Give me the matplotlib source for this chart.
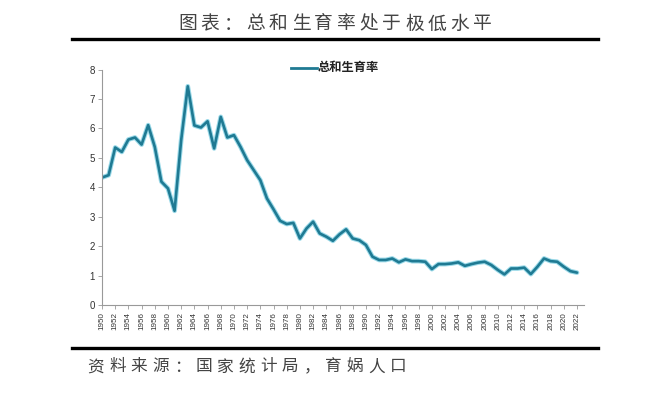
import numpy as np
import matplotlib
matplotlib.use('agg')
import matplotlib.pyplot as plt

plt.rcParams['font.family'] = ['Noto Sans CJK SC', 'DejaVu Sans']

years = list(range(1950, 2023))
tfr = [4.33, 4.41, 5.35, 5.20, 5.62, 5.69, 5.45, 6.11, 5.37, 4.19,
       3.96, 3.20, 5.60, 7.43, 6.10, 6.03, 6.24, 5.32, 6.39, 5.69,
       5.77, 5.37, 4.92, 4.58, 4.24, 3.62, 3.25, 2.86, 2.75, 2.79,
       2.26, 2.60, 2.83, 2.43, 2.32, 2.18, 2.40, 2.57, 2.26, 2.20,
       2.04, 1.64, 1.53, 1.53, 1.58, 1.45, 1.55, 1.49, 1.49, 1.47,
       1.22, 1.39, 1.39, 1.41, 1.45, 1.33, 1.39, 1.44, 1.47, 1.36,
       1.19, 1.04, 1.24, 1.24, 1.27, 1.05, 1.30, 1.58, 1.49, 1.47,
       1.30, 1.15, 1.10]
xticks = list(range(1950, 2023, 2))
yticks = list(range(0, 9))

title = '图表：总和生育率处于极低水平'
series_name = '总和生育率'
source = '资料来源：国家统计局，育娲人口'

W, H = 660, 394
fig = plt.figure(figsize=(6.6, 3.94), dpi=100)
ax = fig.add_axes([102/W, 1-305/H, (583.6-102)/W, (305-69.5)/H])

# soft glow under the main line
ax.plot(years, tfr, color='#9ad9e8', lw=3.4, solid_joinstyle='round', solid_capstyle='round')
ax.plot(years, tfr, color='#1f7a93', lw=1.9, solid_joinstyle='round', solid_capstyle='round')

ax.set_xlim(1950, 2023)
ax.set_ylim(0, 8)
ax.set_xticks(xticks)
ax.set_xticklabels([str(y) for y in xticks], rotation=90, fontsize=5.8,
                   family=['Liberation Sans'], color='#333333')
ax.set_yticks(yticks)
ax.set_yticklabels([str(v) for v in yticks], fontsize=7,
                   family=['Liberation Sans'], color='#333333')
for s in ['top', 'right']:
    ax.spines[s].set_visible(False)
for s in ['left', 'bottom']:
    ax.spines[s].set_color('#999999')
    ax.spines[s].set_linewidth(0.8)
ax.tick_params(axis='both', length=3, width=0.6, color='#999999', pad=2)

# legend drawn by hand at the top
fig.lines.append(plt.Line2D([290.5/W, 316.5/W], [1-67.7/H, 1-67.7/H],
                            color='#1f7a93', lw=2.0, transform=fig.transFigure))
fig.text(318/W, 1-67.7/H, series_name, fontsize=8.8, fontweight='bold',
         va='center', ha='left', color='#222222')

# title, spaced out like the original
step = (494 - 176) / len(title)
for i, ch in enumerate(title):
    fig.text((176 + step*(i+0.5))/W, 1-24/H, ch, fontsize=13.5, ha='center',
             va='center', color='#444444')

fig.lines.append(plt.Line2D([72/W, 598/W], [1-39/H, 1-39/H], color='black',
                            lw=2.4, transform=fig.transFigure))
fig.lines.append(plt.Line2D([72/W, 598/W], [1-348/H, 1-348/H], color='black',
                            lw=2.4, transform=fig.transFigure))

step = (409 - 85) / len(source)
for i, ch in enumerate(source):
    fig.text((85 + step*(i+0.5))/W, 1-367/H, ch, fontsize=12, ha='center',
             va='center', color='#444444')

plt.savefig('out.png', dpi=100)
